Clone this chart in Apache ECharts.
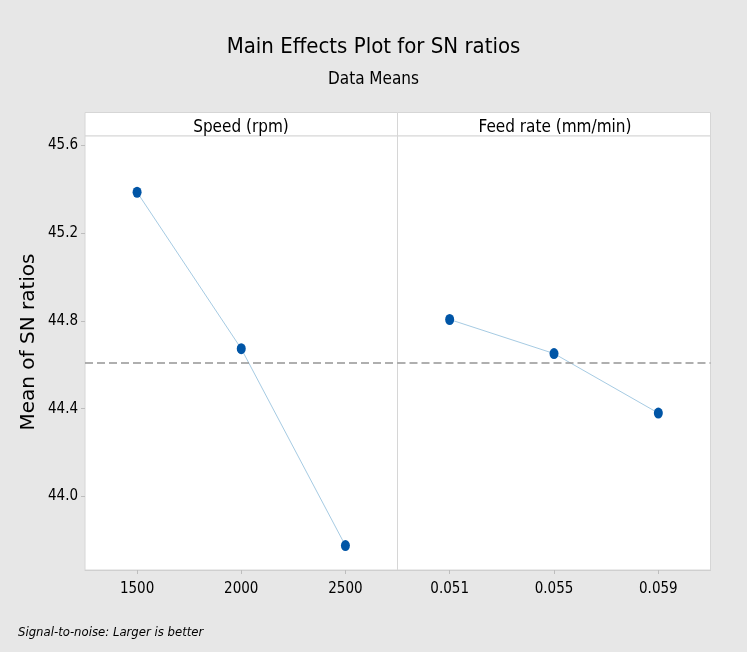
<!DOCTYPE html>
<html><head><meta charset="utf-8">
<script src="https://cdn.jsdelivr.net/npm/echarts@6/dist/echarts.min.js"></script>
<style>html,body{margin:0;padding:0;background:#e7e7e7}#c{width:747px;height:652px}</style>
</head><body><div id="c"></div>
<script>
const speedLevels = ['1500', '2000', '2500'];
const speedMeans = [45.385, 44.673, 43.777];
const feedLevels = ['0.051', '0.055', '0.059'];
const feedMeans = [44.806, 44.651, 44.380];
const yTicks = [44.0, 44.4, 44.8, 45.2, 45.6];
const panelTitles = ['Speed (rpm)', 'Feed rate (mm/min)'];
const yMin = 43.666, yMax = 45.641;
const grandMean = speedMeans.reduce((a, b) => a + b, 0) / speedMeans.length;

const CF = "'Liberation Sans Narrow','DejaVu Sans Condensed','Open Sans',sans-serif";
const chart = echarts.init(document.getElementById('c'), null, {renderer: 'canvas'});

const gridBase = {top: 136, bottom: 82, show: true, backgroundColor: '#fff', borderColor: '#d6d6d6', borderWidth: 1};
function xAx(idx, data) {
  return {type: 'category', gridIndex: idx, data: data, boundaryGap: true,
    axisLine: {show: true, lineStyle: {color: '#cfcfcf'}},
    axisTick: {show: true, alignWithLabel: true, length: 4, lineStyle: {color: '#bdbdbd'}},
    axisLabel: {color: '#000', fontSize: 15, fontFamily: CF, margin: 12}};
}
function yAx(idx, show) {
  return {type: 'value', gridIndex: idx, min: yMin, max: yMax, show: show,
    splitLine: {show: false}, axisLine: {show: false},
    axisTick: {show: true, length: 4, customValues: yTicks, lineStyle: {color: '#bdbdbd'}},
    axisLabel: {color: '#000', fontSize: 15, fontFamily: CF, margin: 7, customValues: yTicks, formatter: v => v.toFixed(1)},
    name: show ? 'Mean of SN ratios' : '', nameLocation: 'middle', nameGap: 46,
    nameTextStyle: {color: '#000', fontSize: 20, fontWeight: 500, fontFamily: "'DejaVu Sans',sans-serif", padding: [0, 0, 0, 22]}};
}
function ser(idx, vals) {
  return {type: 'line', xAxisIndex: idx, yAxisIndex: idx, data: vals,
    symbol: 'circle', symbolSize: [9, 11], itemStyle: {color: '#0055a6'},
    lineStyle: {color: '#a6cbe3', width: 1}, silent: true,
    markLine: {silent: true, symbol: 'none', label: {show: false},
      lineStyle: {type: [8, 4], color: '#959595', width: 1.5}, data: [{yAxis: grandMean}]}};
}

chart.setOption({
  backgroundColor: '#e7e7e7',
  animation: false,
  title: [
    {text: 'Main Effects Plot for SN ratios', left: 'center', top: 31, textStyle: {fontSize: 22, fontWeight: 'normal', color: '#000', fontFamily: CF}},
    {text: 'Data Means', left: 'center', top: 66, textStyle: {fontSize: 17, fontWeight: 'normal', color: '#000', fontFamily: CF}},
    {text: panelTitles[0], left: 236, textAlign: 'center', top: 114, textStyle: {fontSize: 17, fontWeight: 'normal', color: '#000', fontFamily: CF}},
    {text: panelTitles[1], left: 550, textAlign: 'center', top: 114, textStyle: {fontSize: 17, fontWeight: 'normal', color: '#000', fontFamily: CF}},
    {text: 'Signal-to-noise: Larger is better', left: 13, top: 621, textStyle: {fontSize: 13, fontStyle: 'italic', fontWeight: 'normal', color: '#000', fontFamily: CF}}
  ],
  graphic: [
    {type: 'rect', z: -1, shape: {x: 85, y: 112.5, width: 312.5, height: 23.5}, style: {fill: '#fff', stroke: '#d6d6d6', lineWidth: 1}},
    {type: 'rect', z: -1, shape: {x: 397.5, y: 112.5, width: 313, height: 23.5}, style: {fill: '#fff', stroke: '#d6d6d6', lineWidth: 1}}
  ],
  grid: [
    Object.assign({left: 85, right: 349.5}, gridBase),
    Object.assign({left: 397.5, right: 36.5}, gridBase)
  ],
  xAxis: [xAx(0, speedLevels), xAx(1, feedLevels)],
  yAxis: [yAx(0, true), yAx(1, false)],
  series: [ser(0, speedMeans), ser(1, feedMeans)]
});
</script></body></html>
